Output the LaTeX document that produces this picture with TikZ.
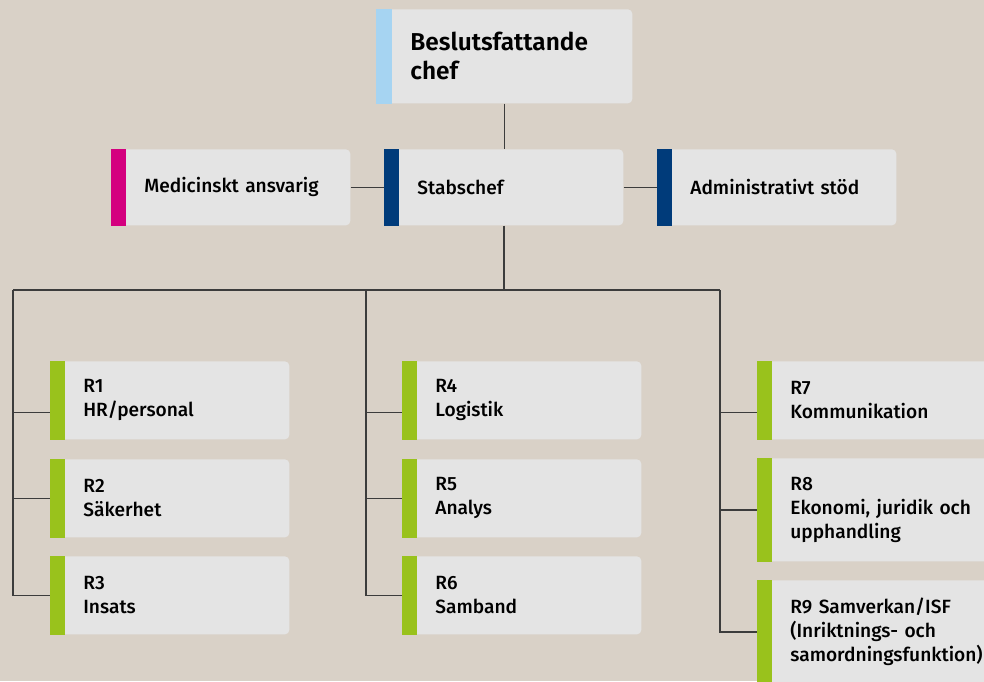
\documentclass[tikz,border=0pt]{standalone}
\usepackage{fontspec}
\setmainfont{Fira Sans}
\newfontfamily\labelfont{Fira Sans Medium}
\newfontfamily\titlefont{Fira Sans SemiBold}

\definecolor{bgbeige}{HTML}{D9D1C7}
\definecolor{boxgrey}{HTML}{E4E4E4}
\definecolor{barblue}{HTML}{A6D4F2}
\definecolor{barpink}{HTML}{D4007F}
\definecolor{barnavy}{HTML}{003B7A}
\definecolor{bargreen}{HTML}{99C21C}
\definecolor{linegrey}{HTML}{3C3C3C}

\begin{document}
\begin{tikzpicture}[x=0.02cm,y=-0.02cm]
  \tikzstyle{box}=[rectangle,rounded corners=2.5pt,fill=boxgrey,anchor=north west,inner xsep=0.66cm,inner ysep=0pt,align=left,font=\labelfont\fontsize{10.9}{13.6}\selectfont]
  \tikzstyle{link}=[draw=linegrey,line width=0.8pt]
  \useasboundingbox (0,0) rectangle (984,681);
  \clip (0,0) rectangle (984,681);
  \fill[bgbeige] (0,0) rectangle (984,681);

  % top
  \node[box,minimum width=5.12cm,minimum height=1.88cm,text width=3.76cm,inner xsep=0.68cm,font=\titlefont\fontsize{13.9}{16.4}\selectfont] (chef) at (376,9) {Beslutsfattande\\chef};
  \fill[barblue] (chef.north west) rectangle ([xshift=0.32cm]chef.south west);

  % staff row
  \foreach \name/\x/\col/\txt in {med/111/barpink/Medicinskt~ansvarig, stab/384/barnavy/Stabschef, adm/657/barnavy/Administrativt~stöd}
    {
    \node[box,minimum width=4.78cm,minimum height=1.52cm,text width=3.46cm] (\name) at (\x,149) {\txt};
    \fill[\col] (\name.north west) rectangle ([xshift=0.3cm]\name.south west);
    }

  % roles
  \foreach \num/\x/\y/\h/\tw/\txt in {1/50/361/1.56/3.46/{R1\\HR/personal}, 2/50/459/1.56/3.46/{R2\\Säkerhet}, 3/50/556/1.56/3.46/{R3\\Insats},
      4/402/361/1.56/3.46/{R4\\Logistik}, 5/402/459/1.56/3.46/{R5\\Analys}, 6/402/556/1.56/3.46/{R6\\Samband},
      7/757/361/1.56/4.4/{R7\\Kommunikation}, 8/757/458/2.06/4.4/{R8\\Ekonomi, juridik och\\upphandling}, 9/757/580/2.06/4.4/{R9 Samverkan/ISF\\(Inriktnings- och\\samordningsfunktion)}}
    {
    \node[box,minimum width=4.78cm,minimum height=\h cm,text width=\tw cm] (R-\num) at (\x,\y) {\txt};
    \fill[bargreen] (R-\num.north west) rectangle ([xshift=0.3cm]R-\num.south west);
    }

  % connectors
  \coordinate (bus-a) at (13,290);
  \coordinate (bus-b) at (366,290);
  \coordinate (bus-c) at (720,290);
  \draw[link] (chef.south) -- (chef.south |- stab.north);
  \draw[link] (med) -- (stab);
  \draw[link] (stab) -- (adm);
  \draw[link] (stab.south) -- (stab.south |- bus-b);
  \draw[link] (bus-a) -- (bus-c);
  \foreach \bus/\num/\dy in {a/1/-0.24, a/2/0, a/3/0, b/4/-0.24, b/5/0, b/6/0, c/7/-0.24, c/8/0, c/9/0}
    \draw[link] (bus-\bus) |- ([yshift=\dy cm]R-\num.west);
\end{tikzpicture}
\end{document}
